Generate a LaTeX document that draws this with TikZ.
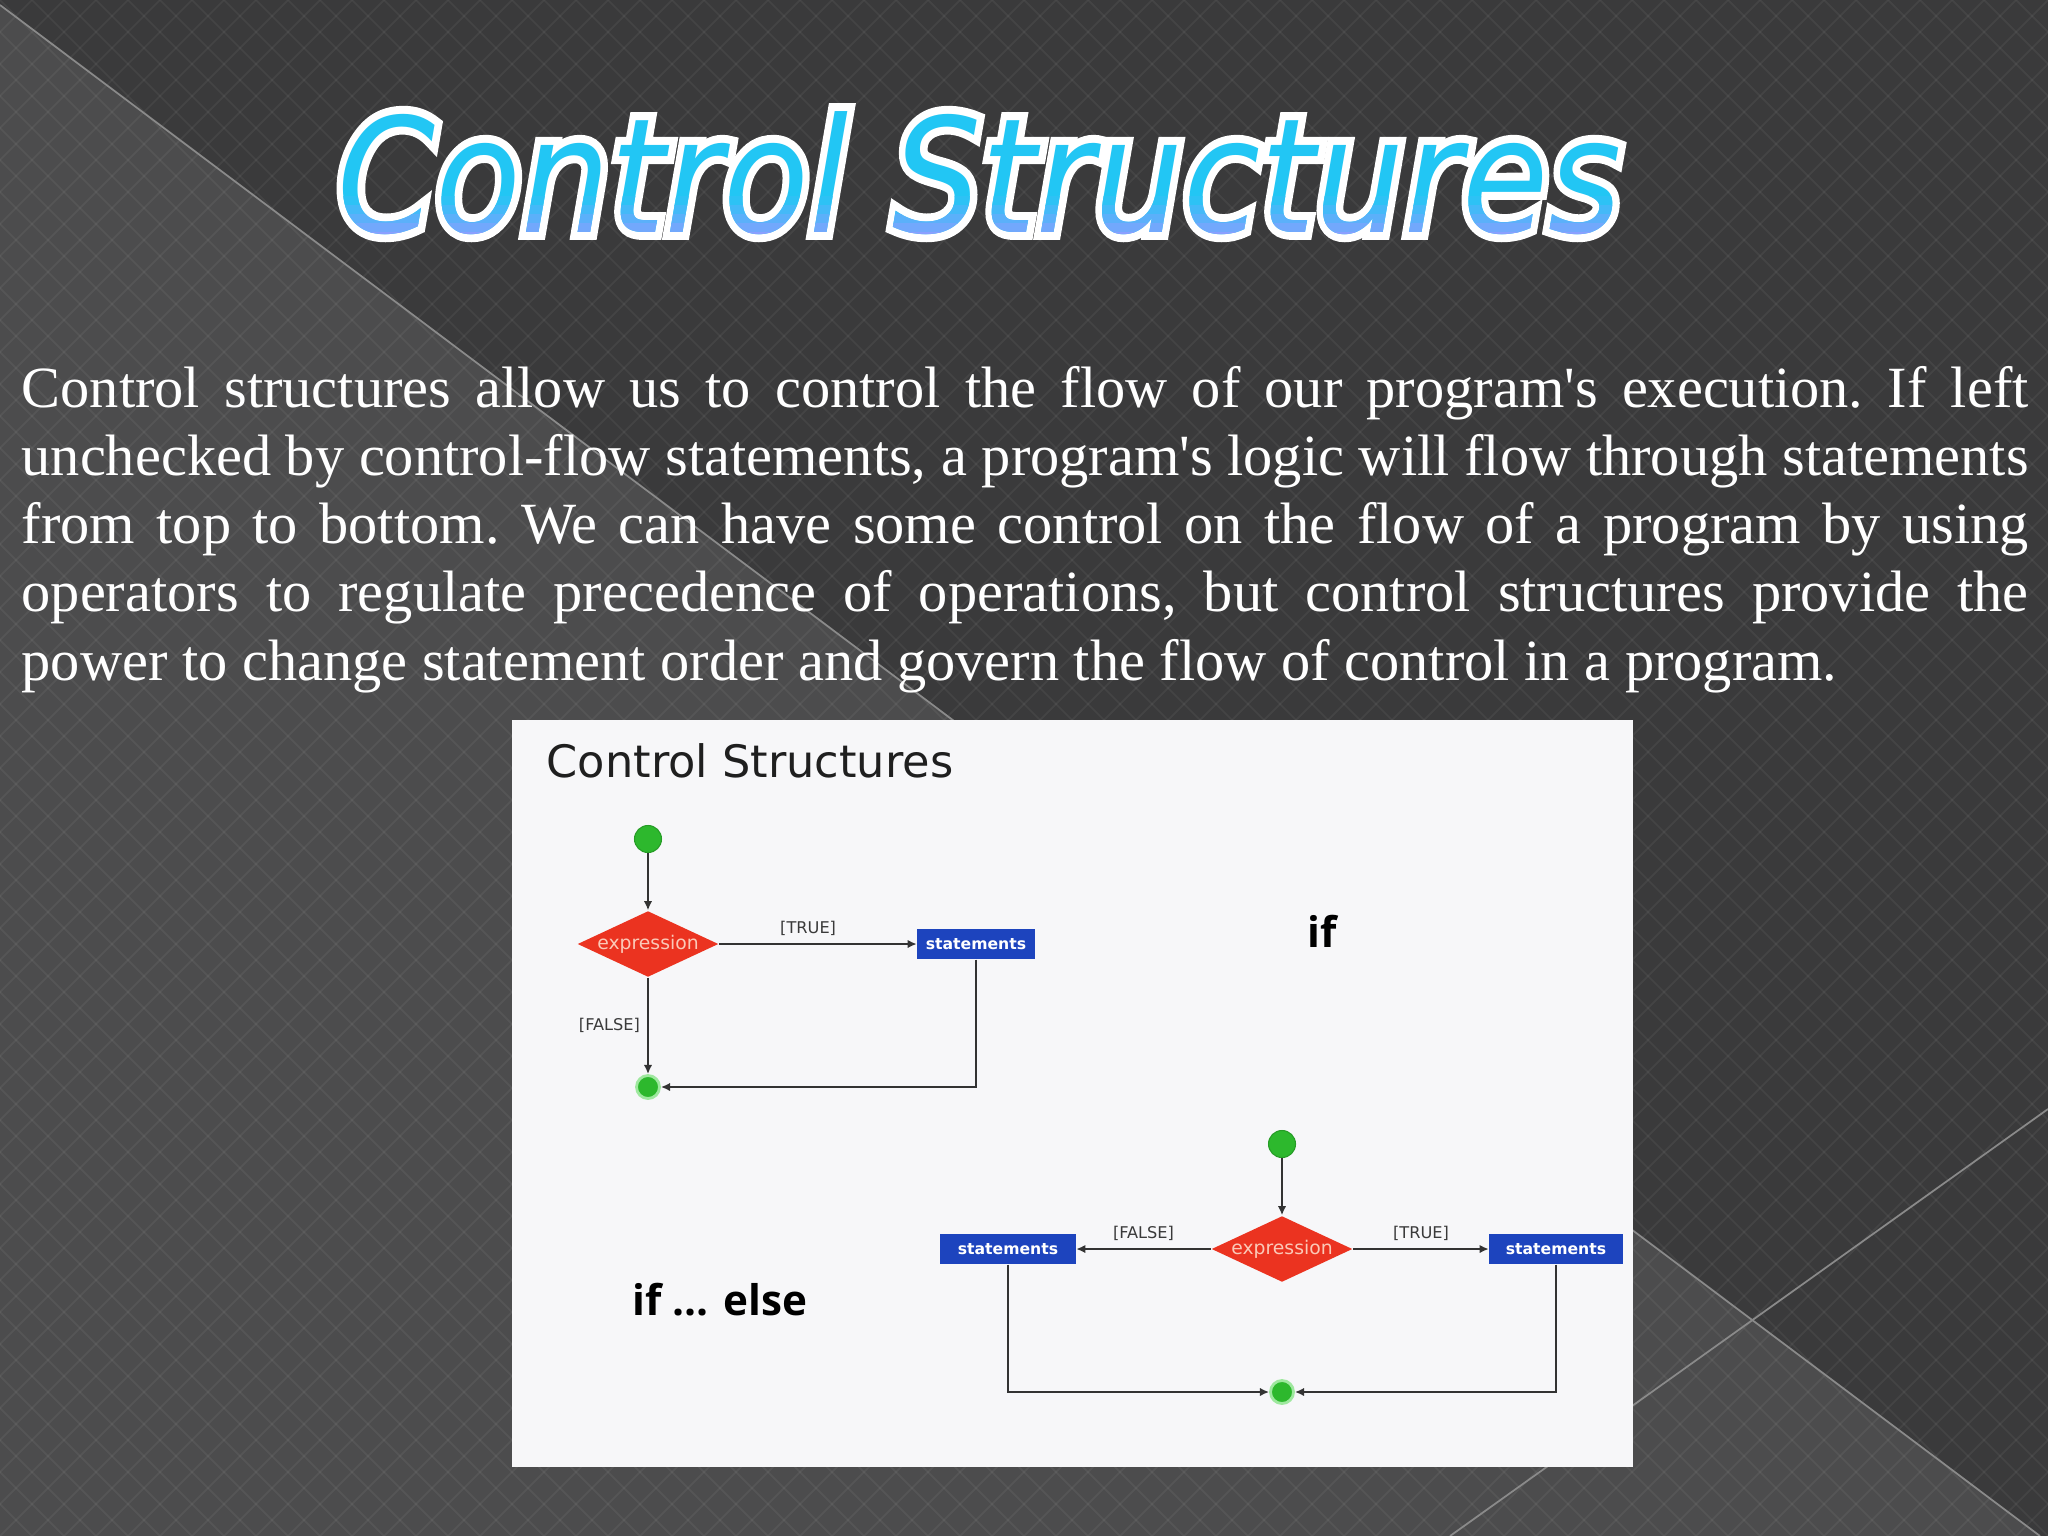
\documentclass[tikz,border=0pt]{standalone}
\usepackage{fontspec}
\setmainfont{Liberation Serif}
\newfontfamily\headfont{DejaVu Sans}
\newfontfamily\headrimfont{DejaVu Sans}[FakeBold=10]
\newfontfamily\panelfont{DejaVu Sans}
\newfontfamily\casefont{Open Sans}
\usetikzlibrary{shapes.geometric,arrows.meta,positioning}

\definecolor{pagedark}{HTML}{3A3A3B}
\definecolor{pagelight}{HTML}{4C4C4D}
\definecolor{seamgray}{HTML}{8A8A8A}
\definecolor{panelwhite}{HTML}{F7F7F9}
\definecolor{headcyan}{HTML}{22C6F4}
\definecolor{headblue}{HTML}{8C9EFF}
\definecolor{nodegreen}{HTML}{2DB82D}
\definecolor{ringgreen}{HTML}{9FE89F}
\definecolor{exprred}{HTML}{EB3320}
\definecolor{exprtextcol}{HTML}{FBC9B8}
\definecolor{stmtblue}{HTML}{1D44BE}
\definecolor{linegray}{HTML}{333333}
\definecolor{guardgray}{HTML}{3A3A3A}

\newcommand{\headline}[1]{\resizebox{365pt}{34.4pt}{#1\itshape Control Structures}}

\tikzset{
  head/.style={anchor=base west, inner sep=0pt},
  seam/.style={draw=seamgray, line width=0.5pt},
  lattice/.style={draw=white, opacity=0.05, line width=0.5pt},
  start/.style={circle, fill=nodegreen, draw=nodegreen!85!black, line width=0.3pt, minimum size=0.27cm, inner sep=0pt},
  finish/.style={circle, fill=nodegreen, draw=ringgreen, line width=0.8pt, minimum size=0.23cm, inner sep=0pt},
  decision/.style={diamond, fill=exprred, minimum width=1.41cm, minimum height=0.66cm, inner sep=0pt},
  exprtext/.style={text=exprtextcol, inner sep=0pt, font=\panelfont\fontsize{5.35pt}{6pt}\selectfont},
  stmt/.style={rectangle, fill=stmtblue, minimum width=1.17cm, minimum height=0.3cm, inner sep=0pt,
    text=white, font=\panelfont\bfseries\fontsize{4.45pt}{5pt}\selectfont},
  flow/.style={draw=linegray, line width=0.55pt, -{Latex[length=2.6pt,width=2.4pt]}},
  guard/.style={text=guardgray, inner sep=2pt, font=\panelfont\fontsize{4.6pt}{5pt}\selectfont},
  casename/.style={anchor=base west, inner sep=0pt, font=\casefont\bfseries\fontsize{12pt}{14pt}\selectfont},
}

\begin{document}
\begin{tikzpicture}[x=0.01cm,y=-0.01cm]
\useasboundingbox (0,0) rectangle (2048,1536);

% Background
\fill[pagedark] (0,0) rectangle (2048,1536);
\fill[pagelight] (0,5) -- (2040,1536) -- (0,1536) -- cycle;
\begin{scope}
  \clip (0,0) rectangle (2048,1536);
  \foreach \k in {-1536,-1504,...,2048} {
    \draw[lattice] (\k,0) -- ++(1536,1536);
    \draw[lattice] (\k+1536,0) -- ++(-1536,1536);
  }
\end{scope}
\draw[seam] (0,5) -- (2040,1536);
\draw[seam] (1450,1536) -- (2048,1109);

% Heading
\node[head, text=white] (headrim) at (337,232) {\headline{\headrimfont}};
\node[head, text=headcyan] (heading) at (337,232) {\headline{\headfont}};
\foreach \k [evaluate=\k as \p using {90-22*\k}] in {0,...,4} {
  \begin{scope}
    \clip (300,{196+9*\k}) rectangle (1680,{205+9*\k+(\k==4)*40});
    \node[head, text=headcyan!\p!headblue] (headband\k) at (337,232) {\headline{\headfont}};
  \end{scope}
}

% Introduction
\node[anchor=base west, text width=570.7pt, align=justify, inner sep=0pt, text=white,
  font=\fontsize{16.6pt}{19.43pt}\selectfont\frenchspacing] (intro) at (21,407)
  {Control structures allow us to control the flow of our program\textquotesingle s execution. If left\linebreak
   unchecked by control-flow statements, a program\textquotesingle s logic will flow through statements\linebreak
   from top to bottom. We can have some control on the flow of a program by using\linebreak
   operators to regulate precedence of operations, but control structures provide the\linebreak
   power to change statement order and govern the flow of control in a program.};

% Panel
\fill[panelwhite] (512,720) rectangle (1633,1467);
\node[anchor=base west, inner sep=0pt, text=black!88, font=\panelfont\fontsize{12.7pt}{14pt}\selectfont] (paneltitle) at (546,777) {Control Structures};

% if
\node[start] (begin1) at (648,839) {};
\node[decision, label={[exprtext, name=expr1]center:expression}] (test1) at (648,944) {};
\node[stmt] (body1) at (976,944) {statements};
\node[finish] (end1) at (648,1087) {};
\draw[flow] (begin1) -- (test1);
\draw[flow] (test1) -- node[guard, above, pos=0.45] (yes1) {[TRUE]} (body1);
\draw[flow] (test1) -- node[guard, left] (no1) {[FALSE]} (end1);
\draw[flow] (body1.south) |- (end1);
\node[casename] (caseif) at (1307,947) {if};

% if ... else
\node[start] (begin2) at (1282,1144) {};
\node[decision, label={[exprtext, name=expr2]center:expression}] (test2) at (1282,1249) {};
\node[stmt, minimum width=1.35cm] (else2) at (1008,1249) {statements};
\node[stmt, minimum width=1.33cm] (then2) at (1556,1249) {statements};
\node[finish] (end2) at (1282,1392) {};
\draw[flow] (begin2) -- (test2);
\draw[flow] (test2) -- node[guard, above] (no2) {[FALSE]} (else2);
\draw[flow] (test2) -- node[guard, above] (yes2) {[TRUE]} (then2);
\draw[flow] (else2.south) |- (end2);
\draw[flow] (then2.south) |- (end2);
\node[casename] (caseelse) at (632,1315) {if ... else};
\end{tikzpicture}
\end{document}
